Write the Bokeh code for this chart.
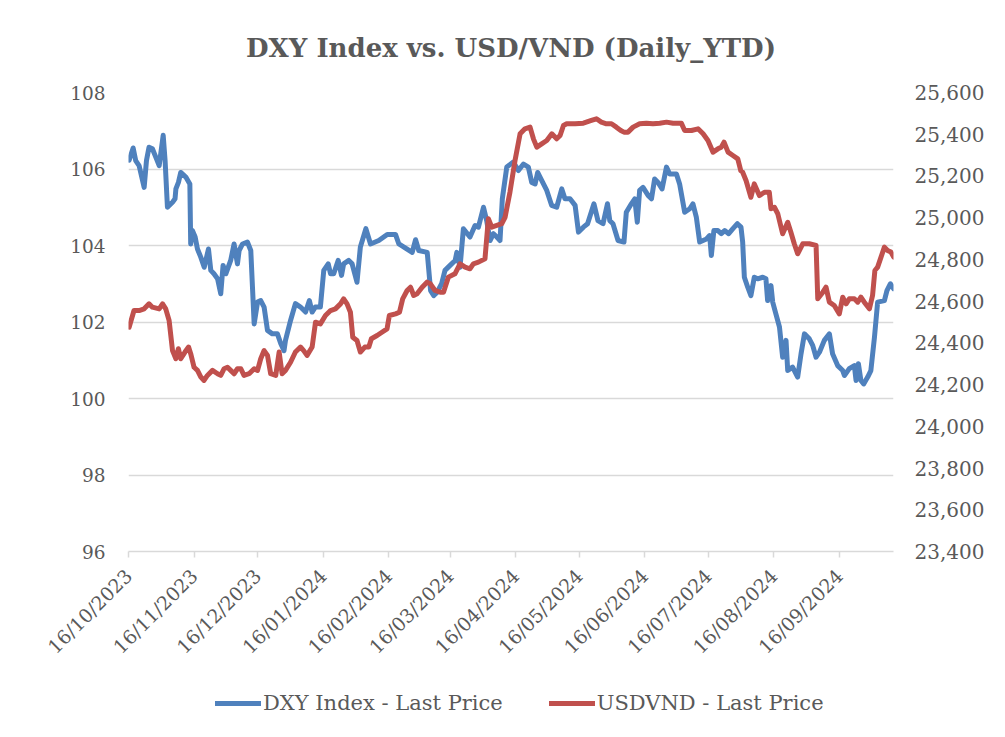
import pandas as pd
from bokeh.plotting import figure
from bokeh.layouts import column
from bokeh.models import (Range1d, LinearAxis, FixedTicker, DatetimeTickFormatter,
                          NumeralTickFormatter, Legend, LegendItem)
from bokeh.embed import file_html
from bokeh.resources import INLINE

# ---------------- data ----------------
start_date = "2023-10-16"
end_offset_days = 361.6

# DXY Index - days after 16/10/2023 and last price
dxy_day = [0.3, 2.2, 3.4, 5.0, 7.4, 8.5, 9.7, 11.3, 12.9, 14.5, 16.4, 17.3, 18.4, 20.8, 22.0, 22.4,
           23.6, 24.7, 27.1, 29.0, 29.4, 30.2, 31.5, 32.6, 34.2, 35.8, 37.8, 38.9, 40.4, 42.1, 43.6,
           44.7, 46.0, 48.3, 49.9, 51.5, 52.3, 53.9, 56.2, 57.8, 59.4, 61.0, 62.5, 64.1, 65.7, 68.0,
           70.4, 72.0, 73.5, 74.2, 76.6, 78.9, 81.3, 83.7, 85.5, 86.8, 88.3, 90.7, 92.3, 94.4, 95.5,
           97.0, 99.1, 100.7, 101.7, 104.1, 105.7, 108.0, 109.6, 112.2, 114.4, 118.3, 122.3, 126.2,
           127.8, 130.2, 134.1, 135.7, 137.2, 141.2, 142.8, 144.3, 145.9, 148.0, 149.6, 152.0, 154.4,
           155.2, 156.7, 158.3, 161.4, 163.8, 165.4, 167.8, 169.3, 170.9, 172.5, 174.1, 175.6, 176.7,
           178.8, 181.9, 184.3, 186.7, 189.0, 190.6, 192.2, 193.4, 195.3, 197.7, 200.0, 202.4, 204.8,
           206.3, 208.7, 211.1, 212.7, 215.0, 217.0, 220.0, 221.9, 224.3, 226.4, 227.5, 229.0, 231.4,
           234.2, 235.3, 237.7, 239.3, 240.5, 241.6, 243.2, 245.6, 247.2, 248.7, 250.3, 252.2, 254.3,
           255.8, 259.0, 260.5, 262.9, 265.3, 266.8, 268.4, 270.0, 273.2, 274.7, 275.5, 276.7, 278.6,
           280.2, 281.8, 283.7, 285.7, 287.8, 289.5, 290.3, 291.1, 292.7, 294.2, 295.8, 297.4, 299.8,
           301.3, 302.1, 303.7, 304.5, 306.0, 307.7, 309.2, 310.8, 311.6, 313.9, 316.3, 317.9, 319.5,
           321.8, 323.4, 325.0, 326.6, 328.9, 331.3, 332.8, 335.2, 337.6, 338.4, 340.7, 343.1, 343.9,
           345.0, 346.2, 347.5, 349.4, 350.9, 352.6, 354.1, 357.3, 358.5, 360.1, 361.7]
dxy = [106.23, 106.55, 106.22, 106.09, 105.52, 106.22, 106.57, 106.53, 106.31, 106.09, 106.88, 106.22,
       105.00, 105.13, 105.22, 105.48, 105.65, 105.91, 105.79, 105.61, 104.04, 104.39, 104.22, 103.91,
       103.69, 103.43, 103.91, 103.35, 103.26, 103.13, 102.74, 103.48, 103.26, 103.61, 104.04, 103.52,
       103.87, 104.04, 104.09, 103.87, 101.95, 102.52, 102.56, 102.39, 101.78, 101.69, 101.69, 101.43,
       101.25, 101.52, 102.04, 102.48, 102.39, 102.26, 102.56, 102.26, 102.39, 102.39, 103.35, 103.52,
       103.26, 103.26, 103.61, 103.22, 103.52, 103.61, 103.52, 103.04, 103.96, 104.44, 104.04, 104.13,
       104.29, 104.29, 104.04, 103.96, 103.82, 104.15, 103.87, 103.82, 102.82, 102.69, 102.78, 103.00,
       103.35, 103.48, 103.61, 103.82, 103.43, 104.44, 104.22, 104.52, 104.48, 105.00, 104.65, 104.13,
       104.31, 104.22, 104.13, 105.22, 106.05, 106.18, 105.96, 106.13, 106.05, 105.65, 105.61, 105.91,
       105.70, 105.44, 105.05, 105.00, 105.48, 105.22, 105.22, 105.05, 104.35, 104.48, 104.57, 105.09,
       104.65, 104.57, 105.09, 104.65, 104.57, 104.13, 104.09, 104.87, 105.09, 105.22, 104.61, 105.44,
       105.52, 105.31, 105.22, 105.74, 105.65, 105.48, 106.05, 105.87, 105.87, 105.61, 104.87, 104.96,
       105.09, 104.74, 104.09, 104.17, 104.26, 103.74, 104.39, 104.39, 104.31, 104.39, 104.31, 104.44,
       104.57, 104.48, 104.09, 103.17, 102.91, 102.69, 103.17, 103.13, 103.17, 103.13, 102.56, 102.95,
       102.52, 102.21, 101.87, 101.08, 101.52, 100.73, 100.82, 100.56, 101.17, 101.69, 101.56, 101.39,
       101.08, 101.21, 101.52, 101.69, 101.17, 100.86, 100.73, 100.60, 100.78, 100.86, 100.47, 100.91,
       100.47, 100.38, 100.56, 100.73, 101.60, 102.52, 102.56, 102.82, 103.00, 102.87]

# USDVND - days after 16/10/2023 and last price
vnd_day = [0.3, 2.6, 5.0, 7.4, 9.7, 11.3, 14.5, 16.1, 17.6, 19.2, 20.8, 22.4, 23.6, 24.7, 26.7, 28.4,
           29.4, 31.0, 32.6, 34.2, 35.7, 37.3, 39.7, 42.1, 43.6, 45.2, 46.8, 48.3, 49.9, 51.5, 53.1,
           54.6, 57.0, 59.4, 61.0, 62.5, 64.1, 65.7, 67.2, 69.6, 71.2, 72.6, 74.2, 76.6, 78.9, 81.3,
           82.8, 84.4, 86.8, 88.4, 90.7, 93.1, 95.5, 97.8, 100.2, 101.7, 103.3, 104.9, 106.0, 108.0,
           109.6, 111.7, 113.6, 114.8, 117.5, 119.8, 122.2, 123.3, 126.2, 128.1, 129.6, 131.7, 133.3,
           134.8, 136.4, 138.8, 141.1, 142.7, 144.9, 147.3, 148.9, 151.2, 154.3, 156.7, 159.1, 161.4,
           163.0, 165.4, 168.5, 170.1, 171.7, 174.1, 176.4, 178.0, 180.3, 182.7, 185.1, 187.4, 189.8,
           191.4, 193.0, 195.3, 197.7, 200.1, 202.4, 204.0, 205.6, 207.1, 211.1, 215.0, 218.8, 221.2,
           223.5, 225.9, 228.3, 230.6, 232.7, 234.2, 236.1, 238.5, 241.6, 244.8, 247.9, 251.1, 254.3,
           257.4, 261.3, 262.9, 266.1, 269.2, 271.6, 273.9, 276.3, 278.6, 280.2, 281.5, 283.4, 285.7,
           288.0, 289.4, 290.3, 291.9, 294.2, 295.8, 298.2, 300.6, 302.9, 303.7, 305.3, 306.9, 309.2,
           311.6, 313.1, 314.7, 316.3, 318.7, 321.8, 325.0, 325.8, 328.2, 329.7, 331.3, 333.6, 336.0,
           337.6, 339.2, 340.7, 343.1, 344.7, 346.2, 347.8, 350.2, 351.7, 352.8, 354.1, 355.7, 357.3,
           358.8, 360.4, 361.7]
vnd = [24475, 24555, 24555, 24563, 24587, 24571, 24563, 24587, 24563, 24507, 24363, 24324, 24372, 24324,
       24356, 24380, 24348, 24283, 24268, 24236, 24220, 24244, 24268, 24252, 24244, 24276, 24283, 24268,
       24252, 24276, 24276, 24244, 24252, 24276, 24268, 24324, 24363, 24340, 24252, 24244, 24356, 24252,
       24268, 24307, 24356, 24380, 24363, 24340, 24380, 24499, 24491, 24531, 24555, 24563, 24587, 24611,
       24587, 24547, 24427, 24411, 24356, 24380, 24380, 24420, 24435, 24451, 24467, 24531, 24539, 24547,
       24611, 24651, 24667, 24627, 24635, 24667, 24691, 24683, 24651, 24643, 24643, 24715, 24731, 24779,
       24763, 24755, 24779, 24787, 24803, 24995, 24955, 24963, 24971, 25002, 25122, 25274, 25402, 25426,
       25434, 25378, 25338, 25354, 25370, 25402, 25378, 25394, 25442, 25450, 25450, 25453, 25466, 25474,
       25458, 25450, 25450, 25434, 25418, 25410, 25410, 25434, 25450, 25453, 25450, 25453, 25458, 25453,
       25453, 25418, 25418, 25426, 25402, 25370, 25314, 25330, 25338, 25362, 25314, 25298, 25282, 25226,
       25218, 25178, 25098, 25162, 25106, 25122, 25122, 25043, 25050, 25019, 24923, 24978, 24930, 24875,
       24827, 24875, 24875, 24867, 24611, 24643, 24667, 24595, 24579, 24539, 24619, 24587, 24611, 24611,
       24595, 24619, 24595, 24563, 24627, 24747, 24763, 24811, 24859, 24843, 24835, 24811]

left_ticks = [96, 98, 100, 102, 104, 106, 108]
right_ticks = [23400, 23600, 23800, 24000, 24200, 24400, 24600, 24800, 25000, 25200, 25400, 25600]
n_month_ticks = 12

title_text = "DXY Index vs. USD/VND (Daily_YTD)"
dxy_label = "DXY Index - Last Price"
vnd_label = "USDVND - Last Price"

# ---------------- build ----------------
t0 = pd.Timestamp(start_date)
dxy_dates = t0 + pd.to_timedelta(dxy_day, unit="D")
vnd_dates = t0 + pd.to_timedelta(vnd_day, unit="D")
x_end = t0 + pd.to_timedelta(end_offset_days, unit="D")

def to_ms(ts):
    return ts.value / 1e6

month_ticks = [to_ms(t0 + pd.DateOffset(months=i)) for i in range(n_month_ticks)]

FONT = "DejaVu Serif"
GREY = "#595959"
GRID = "#d9d9d9"
BLUE = "#4f81bd"
RED = "#c0504d"
W = 1000

p = figure(width=W, height=684, x_axis_type="datetime",
           x_range=Range1d(to_ms(t0), to_ms(x_end)),
           y_range=Range1d(left_ticks[0], left_ticks[-1]),
           output_backend="svg", toolbar_location=None,
           min_border_left=128, min_border_right=107, min_border_top=92, min_border_bottom=133,
           title=title_text)
p.extra_y_ranges = {"vnd": Range1d(right_ticks[0], right_ticks[-1])}

p.title.align = "center"
p.title.text_font = FONT
p.title.text_font_size = "26px"
p.title.text_font_style = "bold"
p.title.text_color = GREY
p.title.standoff = 60

p.outline_line_color = None
p.background_fill_color = "white"
p.border_fill_color = "white"

p.xgrid.grid_line_color = None
p.ygrid.grid_line_color = GRID
p.ygrid.grid_line_width = 1.5
p.ygrid.ticker = FixedTicker(ticks=left_ticks)

# x axis
xa = p.xaxis[0]
xa.ticker = FixedTicker(ticks=month_ticks)
fmt = "%d/%m/%Y"
xa.formatter = DatetimeTickFormatter(milliseconds=fmt, seconds=fmt, minsec=fmt, minutes=fmt,
                                     hourmin=fmt, hours=fmt, days=fmt, months=fmt, years=fmt)
xa.major_label_orientation = 0.785398
xa.axis_line_color = GRID
xa.axis_line_width = 1.5
xa.major_tick_line_color = GRID
xa.major_tick_line_width = 1.5
xa.major_tick_out = 6
xa.major_tick_in = 0
xa.minor_tick_line_color = None
xa.major_label_text_font = FONT
xa.major_label_text_font_size = "19px"
xa.major_label_text_color = GREY
xa.major_label_standoff = 15

# left axis
ya = p.yaxis[0]
ya.ticker = FixedTicker(ticks=left_ticks)
ya.axis_line_color = None
ya.major_tick_line_color = None
ya.minor_tick_line_color = None
ya.major_label_text_font = FONT
ya.major_label_text_font_size = "18.5px"
ya.major_label_text_color = GREY
ya.major_label_standoff = 17

# right axis
ra = LinearAxis(y_range_name="vnd", ticker=FixedTicker(ticks=right_ticks),
                formatter=NumeralTickFormatter(format="0,0"))
ra.axis_line_color = None
ra.major_tick_line_color = None
ra.minor_tick_line_color = None
ra.major_label_text_font = FONT
ra.major_label_text_font_size = "20px"
ra.major_label_text_color = GREY
ra.major_label_standoff = 15
p.add_layout(ra, "right")

line_style = dict(line_width=5, line_join="round", line_cap="round")
p.line(dxy_dates, dxy, line_color=BLUE, **line_style)
p.line(vnd_dates, vnd, y_range_name="vnd", line_color=RED, **line_style)

# ---------------- legend strip below the chart ----------------
lg = figure(width=W, height=46, output_backend="svg", toolbar_location=None,
            x_range=Range1d(0, 1), y_range=Range1d(0, 1), min_border=0)
lg.axis.visible = False
lg.grid.visible = False
lg.outline_line_color = None
lg.border_fill_color = "white"
# proxy renderers (placed outside the visible range) that only feed the legend
g1 = lg.line([5, 6], [5, 5], line_color=BLUE, **line_style)
g2 = lg.line([5, 6], [5, 5], line_color=RED, **line_style)
legend = Legend(items=[LegendItem(label=dxy_label, renderers=[g1]),
                       LegendItem(label=vnd_label, renderers=[g2])],
                orientation="horizontal", location=(87, 15))
legend.border_line_color = None
legend.background_fill_alpha = 0
legend.label_text_font = FONT
legend.label_text_font_size = "21px"
legend.label_text_color = GREY
legend.glyph_width = 46
legend.label_standoff = 2
legend.spacing = 46
legend.margin = 0
legend.padding = 0
lg.add_layout(legend, "center")

open("out.html", "w").write(file_html(column(p, lg, spacing=0), INLINE))
